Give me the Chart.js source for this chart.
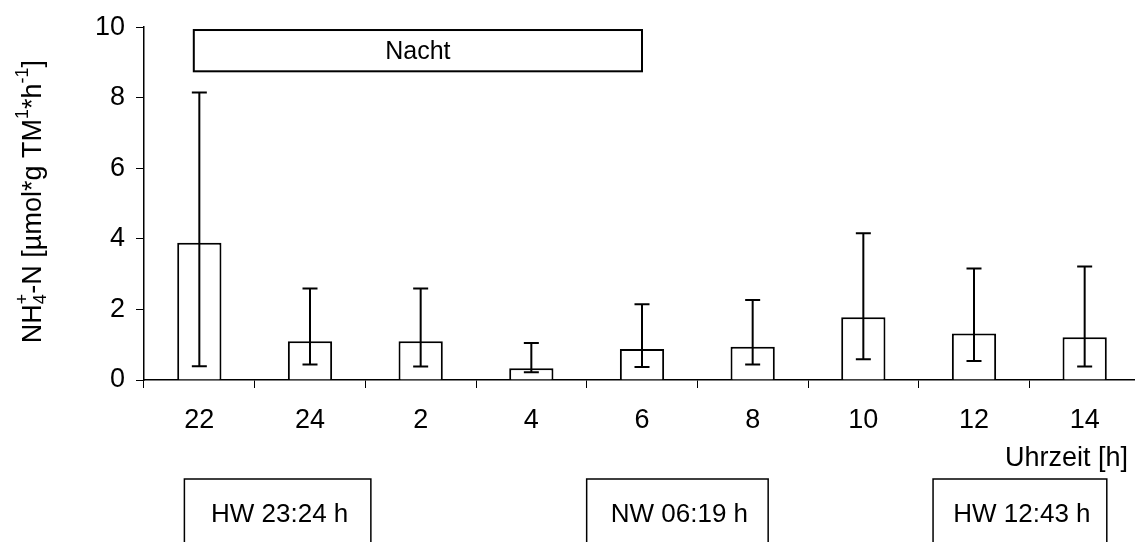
<!DOCTYPE html>
<html lang="de">
<head>
    <meta charset="UTF-8">
    <title>NH4-N Uhrzeit</title>
    <script src="https://cdn.jsdelivr.net/npm/chart.js"></script>
    <style>
        html, body { margin: 0; padding: 0; background: #fff; overflow: hidden; }
        #wrap { width: 1142px; height: 542px; }
    </style>
</head>
<body>
    <div id="wrap">
        <canvas id="nhChart"></canvas>
    </div>
    <script>
        // Daten
        const categories = ['22', '24', '2', '4', '6', '8', '10', '12', '14'];
        const means   = [3.89, 1.10, 1.10, 0.33, 0.88, 0.94, 1.78, 1.32, 1.21];
        const errHigh = [8.15, 2.59, 2.59, 1.05, 2.15, 2.27, 4.16, 3.16, 3.22];
        const errLow  = [0.39, 0.44, 0.38, 0.22, 0.37, 0.44, 0.59, 0.54, 0.38];
        const yTicks  = [0, 2, 4, 6, 8, 10];
        const nightLabel = 'Nacht';
        const tideLabels = ['HW 23:24 h', 'NW 06:19 h', 'HW 12:43 h'];
        const xTitle = 'Uhrzeit [h]';

        const FONT = '"Liberation Sans", Arial, sans-serif';

        // Fehlerbalken, Kaesten und Achsentitel
        const extras = {
            id: 'extras',
            afterDraw(chart) {
                const ctx = chart.ctx;
                const x = chart.scales.x;
                const y = chart.scales.y;
                const meta = chart.getDatasetMeta(0);

                ctx.save();
                ctx.strokeStyle = '#000';
                ctx.fillStyle = '#000';
                ctx.lineWidth = 2;

                // error bars
                meta.data.forEach((bar, i) => {
                    const yh = y.getPixelForValue(errHigh[i]);
                    const yl = y.getPixelForValue(errLow[i]);
                    ctx.beginPath();
                    ctx.moveTo(bar.x, yh); ctx.lineTo(bar.x, yl);
                    ctx.moveTo(bar.x - 7.5, yh); ctx.lineTo(bar.x + 7.5, yh);
                    ctx.moveTo(bar.x - 7.5, yl); ctx.lineTo(bar.x + 7.5, yl);
                    ctx.stroke();
                });

                // Nacht box
                const nl = x.getPixelForValue(-0.05), nr = x.getPixelForValue(4);
                const nt = y.getPixelForValue(9.92), nb = y.getPixelForValue(8.75);
                ctx.fillStyle = '#fff';
                ctx.fillRect(nl, nt, nr - nl, nb - nt);
                ctx.strokeRect(nl, nt, nr - nl, nb - nt);
                ctx.fillStyle = '#000';
                ctx.font = '25px ' + FONT;
                ctx.textAlign = 'center';
                ctx.textBaseline = 'middle';
                ctx.fillText(nightLabel, (nl + nr) / 2, (nt + nb) / 2 + 1);

                // tide boxes below the axis
                const spans = [[-0.135, 1.55], [3.5, 5.14], [6.63, 8.2]];
                const top = y.bottom + 99;
                ctx.lineWidth = 1.5;
                ctx.font = '26px ' + FONT;
                tideLabels.forEach((t, i) => {
                    const l = x.getPixelForValue(spans[i][0]);
                    const r = x.getPixelForValue(spans[i][1]);
                    ctx.strokeRect(l, top, r - l, 80);
                    ctx.fillText(t, (l + r) / 2 + 2, top + 36);
                });

                // x title
                ctx.font = '27px ' + FONT;
                ctx.textAlign = 'right';
                ctx.fillText(xTitle, x.right - 12, y.bottom + 79);

                // y title with sub/superscripts
                const parts = [
                    { t: 'NH', s: 0 },
                    { t: '4', s: 1, keep: true },
                    { t: '+', s: -1 },
                    { t: '-N [\u00b5mol*g TM', s: 0 },
                    { t: '1', s: -1 },
                    { t: '*h', s: 0 },
                    { t: '-1', s: -1 },
                    { t: ']', s: 0 }
                ];
                const big = '27px ' + FONT, small = '18px ' + FONT;
                let total = 0;
                parts.forEach(p => {
                    ctx.font = p.s ? small : big;
                    p.w = ctx.measureText(p.t).width;
                    if (!p.keep) total += p.w;
                });
                ctx.translate(41, (y.top + y.bottom) / 2 - 2);
                ctx.rotate(-Math.PI / 2);
                ctx.textAlign = 'left';
                ctx.textBaseline = 'alphabetic';
                let pos = -total / 2;
                parts.forEach(p => {
                    ctx.font = p.s ? small : big;
                    const dy = p.s === 1 ? 5 : (p.s === -1 ? -13 : 0);
                    ctx.fillText(p.t, pos, dy);
                    if (!p.keep) pos += p.w;
                });
                ctx.restore();
            }
        };

        document.addEventListener('DOMContentLoaded', function() {
            Chart.defaults.font.family = FONT;
            Chart.defaults.font.size = 27;
            Chart.defaults.color = '#000';

            const ctx = document.getElementById('nhChart').getContext('2d');
            new Chart(ctx, {
                type: 'bar',
                data: {
                    labels: categories,
                    datasets: [{
                        data: means,
                        backgroundColor: '#fff',
                        borderColor: '#000',
                        borderWidth: 2,
                        barPercentage: 0.4,
                        categoryPercentage: 1
                    }]
                },
                options: {
                    responsive: true,
                    maintainAspectRatio: false,
                    animation: false,
                    layout: { padding: { top: 20, right: 2, left: 0, bottom: 0 } },
                    plugins: {
                        legend: { display: false },
                        tooltip: { enabled: false }
                    },
                    scales: {
                        x: {
                            grid: { drawOnChartArea: false, drawTicks: true, tickLength: 8, color: '#000', offset: true },
                            border: { color: '#000', width: 1.5 },
                            ticks: { padding: 16, font: { size: 27 }, maxRotation: 0 },
                            afterFit(scale) { scale.height = 162; }
                        },
                        y: {
                            min: 0,
                            max: 10,
                            afterBuildTicks(scale) { scale.ticks = yTicks.map(v => ({ value: v })); },
                            grid: { drawOnChartArea: false, drawTicks: true, tickLength: 8, color: '#000' },
                            border: { color: '#000', width: 1.5 },
                            ticks: { padding: 11, font: { size: 27 } },
                            afterFit(scale) { scale.width = 144; }
                        }
                    }
                },
                plugins: [extras]
            });
        });
    </script>
</body>
</html>
